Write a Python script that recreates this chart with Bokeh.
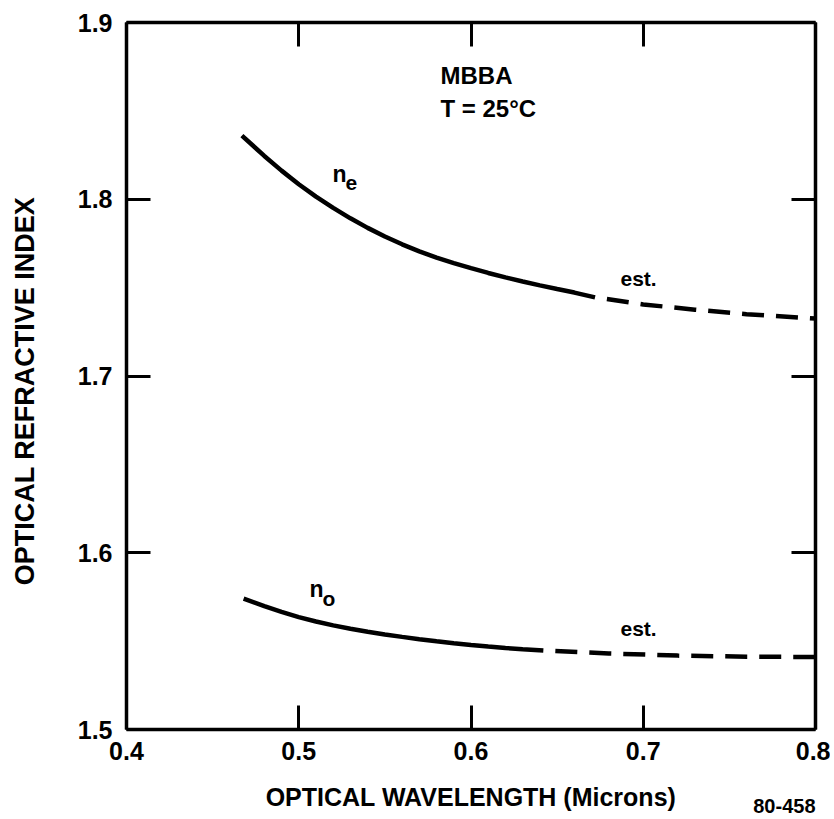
import math
from bokeh.plotting import figure
from bokeh.models import Range1d, LinearAxis, FixedTicker, Label, Title
from bokeh.embed import file_html
from bokeh.resources import INLINE

# ---- data ----
wl_ne_meas = [0.467, 0.48, 0.49, 0.50, 0.51, 0.52, 0.53, 0.54, 0.55, 0.56, 0.57,
              0.58, 0.59, 0.60, 0.61, 0.62, 0.63, 0.64, 0.65, 0.66, 0.672]
ne_meas = [1.8360, 1.8245, 1.8162, 1.8085, 1.8015, 1.7951, 1.7892, 1.7838, 1.7789,
           1.7745, 1.7705, 1.7670, 1.7639, 1.7610, 1.7583, 1.7558, 1.7535, 1.7513,
           1.7492, 1.7472, 1.7445]
wl_ne_est = [0.672, 0.70, 0.73, 0.76, 0.80]
ne_est = [1.7445, 1.7405, 1.7375, 1.7350, 1.7325]

wl_no_meas = [0.468, 0.48, 0.49, 0.50, 0.51, 0.52, 0.53, 0.54, 0.55, 0.56, 0.57,
              0.58, 0.59, 0.60, 0.61, 0.62, 0.63, 0.642]
no_meas = [1.5740, 1.5698, 1.5665, 1.5636, 1.5611, 1.5589, 1.5570, 1.5553, 1.5538,
           1.5524, 1.5511, 1.5499, 1.5488, 1.5478, 1.5469, 1.5461, 1.5454, 1.5447]
wl_no_est = [0.642, 0.68, 0.72, 0.76, 0.80]
no_est = [1.5447, 1.5430, 1.5418, 1.5412, 1.5410]

x_ticks = [0.4, 0.5, 0.6, 0.7, 0.8]
y_ticks = [1.5, 1.6, 1.7, 1.8, 1.9]

FONT = "Liberation Sans"

p = figure(frame_width=689, frame_height=707,
           x_range=Range1d(0.4, 0.8), y_range=Range1d(1.5, 1.9),
           output_backend="svg", toolbar_location=None,
           min_border_left=126, min_border_right=15,
           min_border_top=22, min_border_bottom=88)
p.grid.visible = False
p.outline_line_color = None
p.background_fill_color = "white"
p.border_fill_color = "white"

p.add_layout(LinearAxis(), "above")
p.add_layout(LinearAxis(), "right")

for ax in p.xaxis:
    ax.ticker = FixedTicker(ticks=x_ticks)
for ax in p.yaxis:
    ax.ticker = FixedTicker(ticks=y_ticks)

for ax in list(p.xaxis) + list(p.yaxis):
    ax.axis_line_width = 3.5
    ax.axis_line_color = "black"
    ax.major_tick_in = 24
    ax.major_tick_out = 0
    ax.major_tick_line_width = 3
    ax.major_tick_line_color = "black"
    ax.minor_tick_line_color = None
    ax.major_label_text_font = FONT
    ax.major_label_text_font_style = "bold"
    ax.major_label_text_font_size = "25px"
    ax.major_label_text_color = "black"

# hidden labels on the top and right axes (ticks only)
for ax in (p.above[0], p.right[0]):
    ax.major_label_text_font_size = "1px"
    ax.major_label_text_color = None
    ax.major_label_standoff = 0

xax = p.below[0]
xax.major_label_standoff = 12
xax.axis_label = "OPTICAL WAVELENGTH (Microns)"
xax.axis_label_text_font = FONT
xax.axis_label_text_font_style = "bold"
xax.axis_label_text_font_size = "25px"
xax.axis_label_text_color = "black"
xax.axis_label_standoff = 20

yax = p.left[0]
yax.major_label_standoff = 14
# trailing no-break spaces shift the centred label slightly downwards
yax.axis_label = "OPTICAL REFRACTIVE INDEX" + "\u00a0" * 4
yax.axis_label_text_font = FONT
yax.axis_label_text_font_style = "bold"
yax.axis_label_text_font_size = "27px"
yax.axis_label_text_color = "black"
yax.axis_label_standoff = 35

fig_no = Title(text="80-458", align="right", vertical_align="top", standoff=-30,
               text_font=FONT, text_font_style="bold", text_font_size="20px",
               text_color="black")
p.add_layout(fig_no, "below")

# ---- curves ----
p.line(wl_ne_meas, ne_meas, line_width=4.5, line_color="black")
p.line(wl_ne_est, ne_est, line_width=4.5, line_color="black",
       line_dash="22 12", line_dash_offset=22)
p.line(wl_no_meas, no_meas, line_width=4.5, line_color="black")
p.line(wl_no_est, no_est, line_width=4.5, line_color="black",
       line_dash="22 12", line_dash_offset=22)


def lab(x, y, text, size):
    p.add_layout(Label(x=x, y=y, text=text, text_font=FONT,
                       text_font_style="bold", text_font_size=size,
                       text_color="black", text_align="left",
                       text_baseline="alphabetic"))


# annotations inside the plot
lab(0.5823, 1.8700, "MBBA", "24px")
lab(0.5823, 1.8513, "T = 25°C", "24px")
lab(0.5196, 1.8145, "n", "23px")
lab(0.5271, 1.8092, "e", "21px")
lab(0.5062, 1.5797, "n", "23px")
lab(0.5138, 1.5741, "o", "21px")
lab(0.6868, 1.7551, "est.", "21px")
lab(0.6868, 1.5571, "est.", "21px")

open("out.html", "w").write(file_html(p, INLINE))
